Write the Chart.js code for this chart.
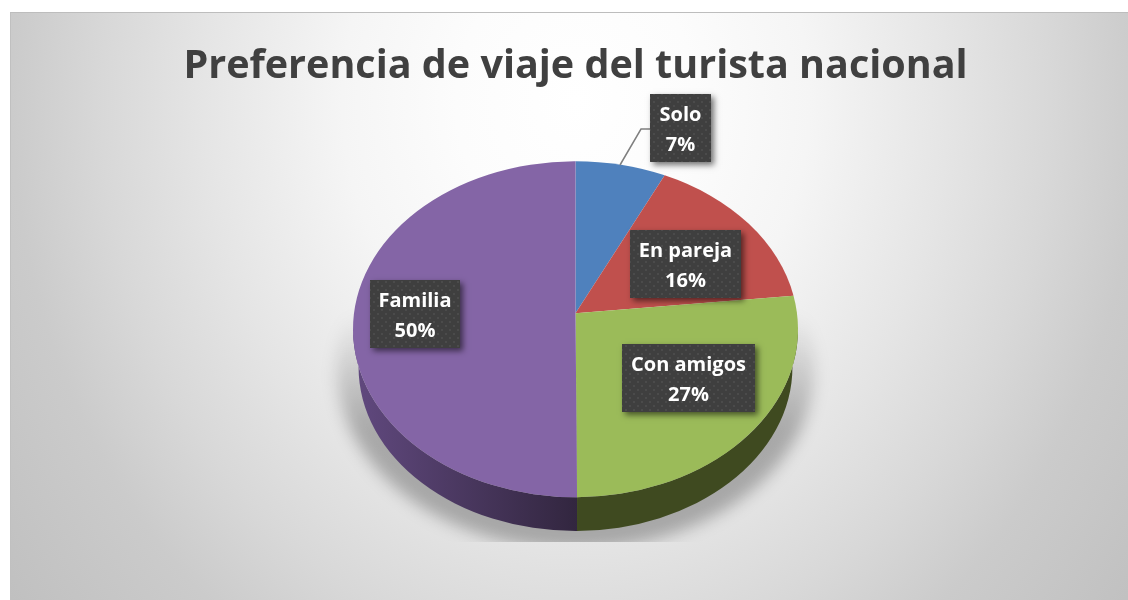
<!DOCTYPE html>
<html lang="es">
<head>
<meta charset="UTF-8">
<title>Preferencia de viaje del turista nacional</title>
<script src="https://cdn.jsdelivr.net/npm/chart.js"></script>
<style>
  html, body { margin: 0; background: #fff; overflow: hidden; }
  #bg {
    position: absolute; left: 10px; top: 12px; width: 1118px; height: 588px;
    border-top: 1px solid #bdbdbd; border-left: 1px solid #c0c0c0; box-sizing: border-box;
    background: radial-gradient(ellipse 600px 700px at 565px 88px, #ffffff 0%, #fcfcfc 20%, #f5f5f5 39%, #e5e5e5 62%, #d8d8d8 79%, #cbcbcb 94%, #c0c0c0 118%);
  }
  canvas { position: absolute; left: 0; top: 0; }
</style>
</head>
<body>
<div id="bg"></div>
<canvas id="pie" width="1128" height="600"></canvas>
<script>
const titleText = 'Preferencia de viaje del turista nacional';
const categories = ['Solo', 'En pareja', 'Con amigos', 'Familia'];
const shares = [7.2, 16.1, 26.6, 50.1];

const sliceColors = ['#4f81bd', '#c0504d', '#9bbb59', '#8465a6'];
const wallColors = [
  ['#2f4d71', '#2f4d71'],
  ['#733030', '#733030'],
  ['#3f4a20', '#3f4a20'],
  ['#61497f', '#32263f']
];

// label boxes were moved by hand in the original, so they sit in fixed spots
const labelBoxes = [
  { x: 650, y: 94, w: 61, h: 68 },
  { x: 630, y: 230, w: 111, h: 68 },
  { x: 622, y: 344, w: 133, h: 68 },
  { x: 370, y: 280, w: 90, h: 68 }
];
const tilt = 168 / 222.5;   // ry / rx of the top face
const skew = -16 / 168;     // how far the centre sits above the ellipse centre
const depth = 38;           // drop of the lower rim
const shrink = 0.975;       // lower rim is a bit smaller, further from the eye

function dotTile() {
  const c = document.createElement('canvas');
  c.width = c.height = 8;
  const g = c.getContext('2d');
  g.fillStyle = '#3f3f3f';
  g.fillRect(0, 0, 8, 8);
  g.fillStyle = '#4b4b4b';
  g.fillRect(1, 1, 2, 2);
  g.fillRect(5, 5, 2, 2);
  return c;
}

// circle angle -> point on the ellipse, as seen in perspective
function rimPoint(arc, angle) {
  const rx = arc.outerRadius, ry = rx * tilt;
  const u = Math.cos(angle), v = Math.sin(angle);
  const w = 1 + skew * v;
  return {
    x: arc.x + rx * Math.sqrt(1 - skew * skew) * u / w,
    y: arc.y + (ry * v + skew * ry) / w
  };
}

function ellipseParam(arc, p) {
  const rx = arc.outerRadius, ry = rx * tilt;
  return Math.atan2((p.y - arc.y) / ry, (p.x - arc.x) / rx);
}

const pie3d = {
  id: 'pie3d',
  beforeDatasetDraw(chart) {
    const ctx = chart.ctx;
    const arcs = chart.getDatasetMeta(0).data;
    const a0 = arcs[0];
    const rx = a0.outerRadius, ry = rx * tilt;

    // floor shadow, cut off flat at the bottom and fading out upwards
    const shade = ctx.createLinearGradient(0, a0.y - 15, 0, a0.y + 100);
    shade.addColorStop(0, 'rgba(0,0,0,0)');
    shade.addColorStop(1, 'rgba(0,0,0,0.27)');
    ctx.save();
    ctx.beginPath();
    ctx.rect(0, 0, chart.width, 542);
    ctx.clip();
    ctx.filter = 'blur(8px)';
    ctx.fillStyle = shade;
    ctx.beginPath();
    ctx.ellipse(a0.x, a0.y + 40, rx + 16, ry + 12, 0, 0, Math.PI * 2);
    ctx.fill();
    ctx.restore();

    // side wall
    arcs.forEach((arc, i) => {
      let t0 = ellipseParam(arc, rimPoint(arc, arc.startAngle));
      let t1 = ellipseParam(arc, rimPoint(arc, arc.endAngle));
      if (t1 < t0) t1 += Math.PI * 2;
      const from = Math.max(t0, 0), to = Math.min(t1, Math.PI);
      if (to <= from) return;
      const x0 = arc.x + rx * Math.cos(to), x1 = arc.x + rx * Math.cos(from);
      const grad = ctx.createLinearGradient(x0, 0, x1, 0);
      grad.addColorStop(0, wallColors[i][0]);
      grad.addColorStop(1, wallColors[i][1]);
      ctx.fillStyle = grad;
      ctx.beginPath();
      ctx.ellipse(arc.x, arc.y, rx, ry, 0, from, to);
      ctx.ellipse(arc.x, arc.y + depth, rx * shrink, ry * shrink, 0, to, from, true);
      ctx.closePath();
      ctx.fill();
    });

    // top face
    const hubY = a0.y + skew * ry;
    arcs.forEach((arc, i) => {
      const p0 = rimPoint(arc, arc.startAngle);
      const p1 = rimPoint(arc, arc.endAngle);
      let t0 = ellipseParam(arc, p0), t1 = ellipseParam(arc, p1);
      if (t1 < t0) t1 += Math.PI * 2;
      ctx.fillStyle = sliceColors[i];
      ctx.beginPath();
      ctx.moveTo(arc.x, hubY);
      ctx.lineTo(p0.x, p0.y);
      ctx.ellipse(arc.x, arc.y, rx, ry, 0, t0, t1);
      ctx.closePath();
      ctx.fill();
    });
    return false;
  },
  afterDatasetsDraw(chart) {
    const ctx = chart.ctx;
    const total = shares.reduce((a, b) => a + b, 0);
    const pattern = ctx.createPattern(dotTile(), 'repeat');

    // leader line for Solo
    ctx.save();
    ctx.strokeStyle = '#7f7f7f';
    ctx.lineWidth = 1.5;
    ctx.beginPath();
    ctx.moveTo(620, 165);
    ctx.lineTo(641, 129);
    ctx.lineTo(650, 129);
    ctx.stroke();
    ctx.restore();

    categories.forEach((name, i) => {
      const b = labelBoxes[i];
      ctx.save();
      ctx.shadowColor = 'rgba(0,0,0,0.55)';
      ctx.shadowBlur = 6;
      ctx.shadowOffsetX = 3;
      ctx.shadowOffsetY = 3;
      ctx.fillStyle = '#3f3f3f';
      ctx.fillRect(b.x, b.y, b.w, b.h);
      ctx.restore();
      ctx.fillStyle = pattern;
      ctx.fillRect(b.x, b.y, b.w, b.h);
      ctx.fillStyle = '#ffffff';
      ctx.font = 'bold 20px "Open Sans"';
      ctx.textAlign = 'center';
      ctx.textBaseline = 'middle';
      const mid = b.x + b.w / 2;
      ctx.fillText(name, mid, b.y + 21);
      ctx.fillText(Math.round(shares[i] / total * 100) + '%', mid, b.y + 51);
    });
  }
};

new Chart(document.getElementById('pie'), {
  type: 'pie',
  data: {
    labels: categories,
    datasets: [{ data: shares, backgroundColor: sliceColors, borderWidth: 0, radius: 222.5 }]
  },
  options: {
    responsive: false,
    animation: false,
    events: [],
    layout: { padding: { left: 23, bottom: 32 } },
    plugins: {
      legend: { display: false },
      tooltip: { enabled: false },
      title: {
        display: true,
        text: titleText,
        color: '#404040',
        font: { family: 'Open Sans', size: 39.5, weight: 'bold' },
        padding: { top: 43, bottom: 0 }
      }
    }
  },
  plugins: [pie3d]
});
</script>
</body>
</html>
